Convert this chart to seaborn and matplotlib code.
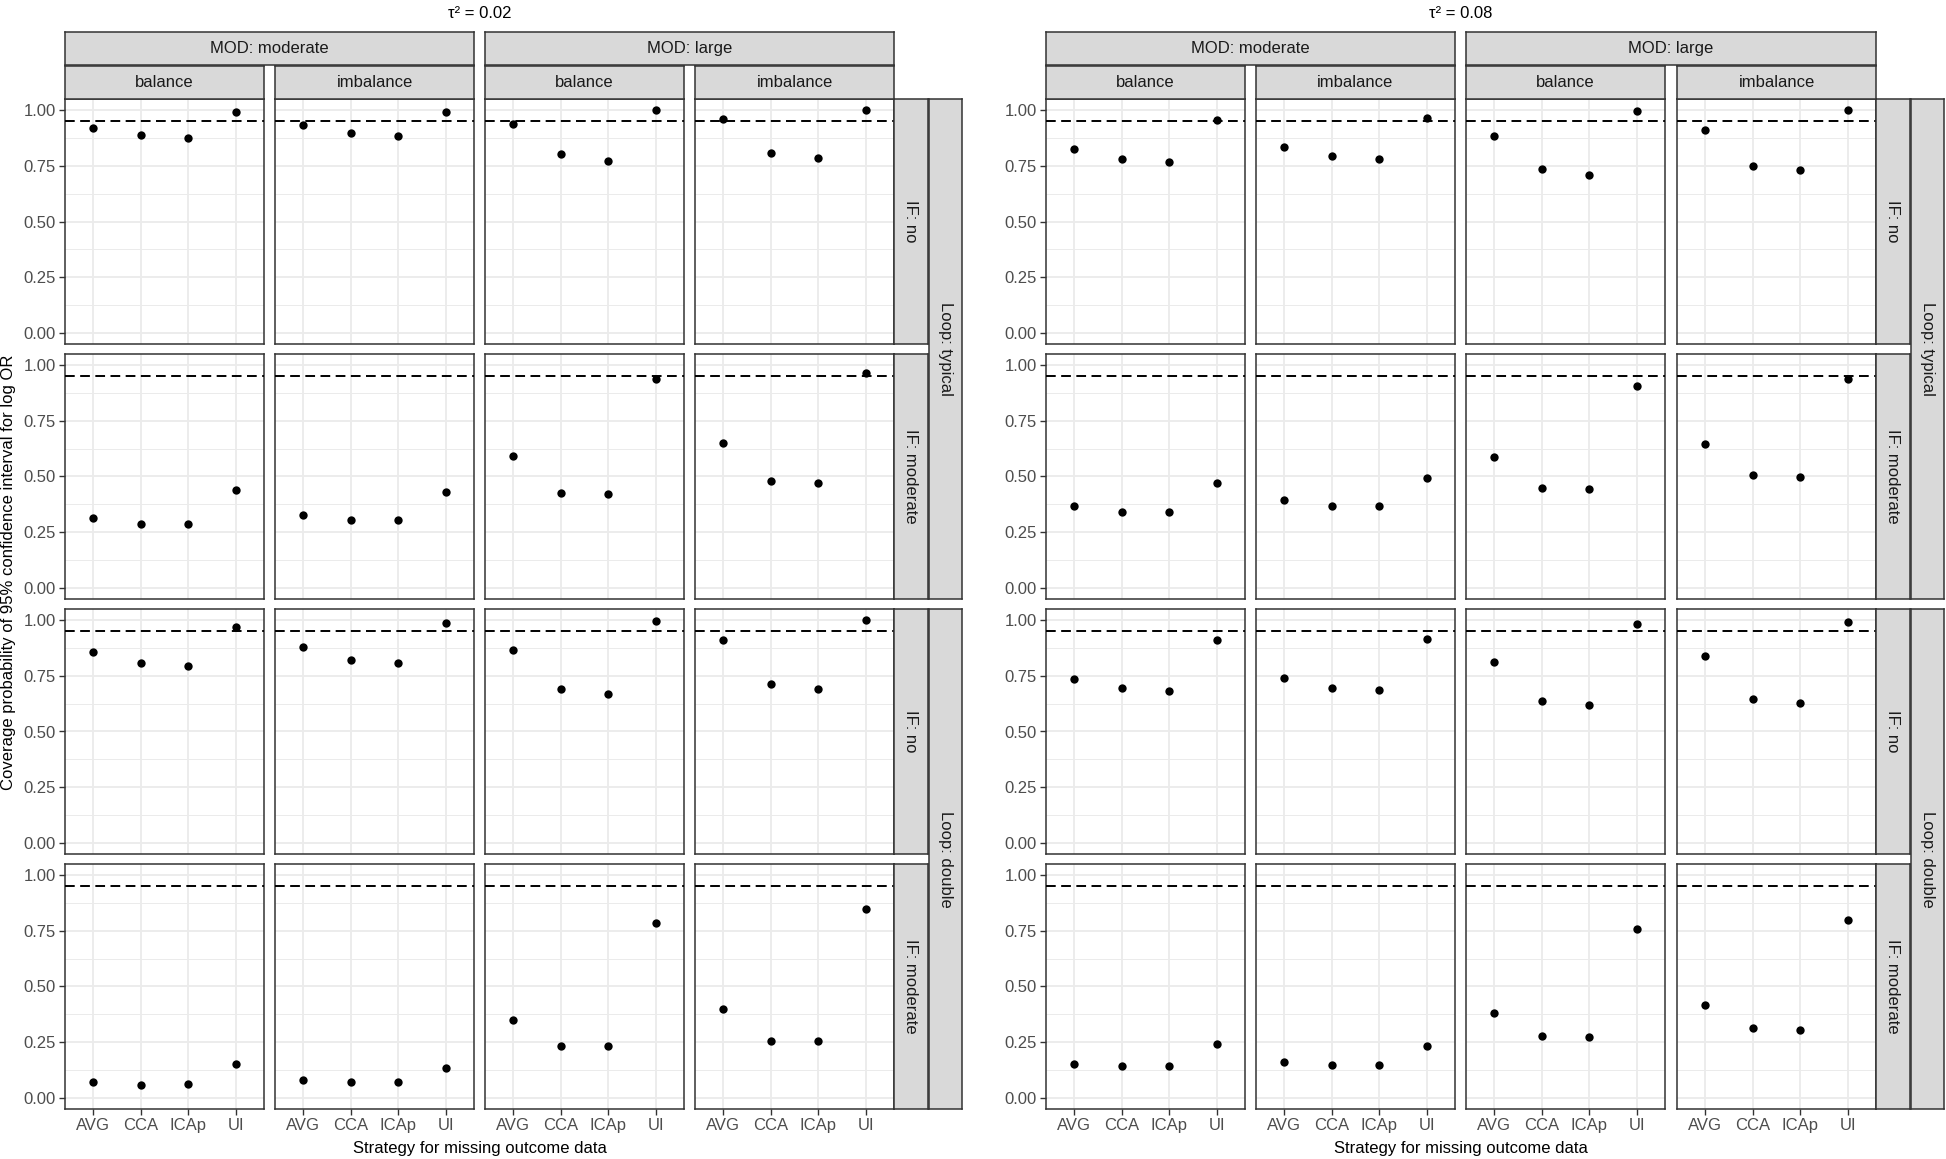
import matplotlib

matplotlib.use("Agg")

import matplotlib.pyplot as plt
import pandas as pd
import seaborn as sns

# Values: rows are (MOD, balance) facets in the order
# moderate/balance, moderate/imbalance, large/balance, large/imbalance,
# columns are the strategies AVG, CCA, ICAp, UI.
STRATEGIES = ["AVG", "CCA", "ICAp", "UI"]
TAUS = ["0.02", "0.08"]
LOOPS = ["typical", "double"]
IFS = ["no", "moderate"]
MODS = ["moderate", "large"]
BALANCES = ["balance", "imbalance"]

cov_002_typical_no = [
    [0.922, 0.888, 0.874, 0.991],
    [0.933, 0.897, 0.885, 0.993],
    [0.940, 0.801, 0.773, 1.000],
    [0.961, 0.809, 0.783, 1.000],
]
cov_002_typical_moderate = [
    [0.312, 0.286, 0.288, 0.441],
    [0.325, 0.304, 0.304, 0.432],
    [0.592, 0.427, 0.421, 0.936],
    [0.649, 0.478, 0.471, 0.966],
]
cov_002_double_no = [
    [0.855, 0.807, 0.792, 0.970],
    [0.880, 0.822, 0.808, 0.985],
    [0.865, 0.690, 0.667, 0.996],
    [0.909, 0.714, 0.693, 1.000],
]
cov_002_double_moderate = [
    [0.069, 0.060, 0.064, 0.150],
    [0.079, 0.073, 0.072, 0.136],
    [0.349, 0.231, 0.231, 0.786],
    [0.400, 0.257, 0.256, 0.846],
]
cov_008_typical_no = [
    [0.824, 0.779, 0.767, 0.957],
    [0.834, 0.794, 0.782, 0.963],
    [0.885, 0.735, 0.710, 0.997],
    [0.912, 0.750, 0.729, 0.999],
]
cov_008_typical_moderate = [
    [0.367, 0.340, 0.342, 0.471],
    [0.393, 0.369, 0.366, 0.495],
    [0.589, 0.450, 0.445, 0.907],
    [0.645, 0.507, 0.498, 0.937],
]
cov_008_double_no = [
    [0.736, 0.696, 0.681, 0.909],
    [0.742, 0.697, 0.687, 0.915],
    [0.810, 0.636, 0.619, 0.984],
    [0.841, 0.646, 0.627, 0.990],
]
cov_008_double_moderate = [
    [0.154, 0.141, 0.141, 0.240],
    [0.160, 0.148, 0.147, 0.232],
    [0.383, 0.277, 0.274, 0.759],
    [0.419, 0.313, 0.305, 0.799],
]

TARGET = 0.95

COVERAGE = {
    ("0.02", "typical", "no"): cov_002_typical_no,
    ("0.02", "typical", "moderate"): cov_002_typical_moderate,
    ("0.02", "double", "no"): cov_002_double_no,
    ("0.02", "double", "moderate"): cov_002_double_moderate,
    ("0.08", "typical", "no"): cov_008_typical_no,
    ("0.08", "typical", "moderate"): cov_008_typical_moderate,
    ("0.08", "double", "no"): cov_008_double_no,
    ("0.08", "double", "moderate"): cov_008_double_moderate,
}

records = []
for (tau, loop, inf), grid in COVERAGE.items():
    for k, vals in enumerate(grid):
        mod, bal = MODS[k // 2], BALANCES[k % 2]
        for strat, v in zip(STRATEGIES, vals):
            records.append(dict(tau=tau, loop=loop, IF=inf, MOD=mod,
                                balance=bal, strategy=strat, coverage=v))
df = pd.DataFrame(records)

sns.set_theme(style="white")
plt.rcParams["font.family"] = ["Liberation Sans", "DejaVu Sans"]

W, H = 1946, 1159
fig = plt.figure(figsize=(W / 100, H / 100), dpi=100)

STRIP_BG = "#D9D9D9"
DARK = "#333333"
GRID = "#EBEBEB"
FS = 12


def box(x0, y0, x1, y1):
    """Pixel box (top-left origin) to figure fraction rect."""
    return [x0 / W, 1 - y1 / H, (x1 - x0) / W, (y1 - y0) / H]


def strip(x0, y0, x1, y1, label, rotation=0):
    ax = fig.add_axes(box(x0, y0, x1, y1))
    ax.set_facecolor(STRIP_BG)
    ax.set_xticks([])
    ax.set_yticks([])
    for s in ax.spines.values():
        s.set_color(DARK)
        s.set_linewidth(1.1)
    ax.text(0.5, 0.5, label, transform=ax.transAxes, ha="center", va="center",
            rotation=rotation, fontsize=FS, color="#1A1A1A")


ROW_TOPS = [99, 354, 609, 864]
ROW_H = 245
COL_STARTS = {"0.02": [65, 275, 485, 695], "0.08": [1046, 1256, 1466, 1677]}
COL_W = 199
ROWS = [(loop, inf) for loop in LOOPS for inf in IFS]
COLS = [(mod, bal) for mod in MODS for bal in BALANCES]

for tau in TAUS:
    xs = COL_STARTS[tau]
    right = xs[-1] + COL_W
    for r, (loop, inf) in enumerate(ROWS):
        y0 = ROW_TOPS[r]
        for c, (mod, bal) in enumerate(COLS):
            ax = fig.add_axes(box(xs[c], y0, xs[c] + COL_W, y0 + ROW_H))
            sub = df[(df.tau == tau) & (df.loop == loop) & (df.IF == inf)
                     & (df.MOD == mod) & (df.balance == bal)]
            sns.stripplot(data=sub, x="strategy", y="coverage", order=STRATEGIES,
                          jitter=False, color="black", size=6, linewidth=0,
                          ax=ax, zorder=4)
            ax.axhline(TARGET, color="black", lw=1.4, ls=(0, (5, 2.8)), zorder=3)
            ax.set_xlim(-0.6, 3.6)
            ax.set_ylim(-0.05, 1.05)
            ax.set_yticks([0, 0.25, 0.5, 0.75, 1.0])
            ax.set_yticks([0.125, 0.375, 0.625, 0.875], minor=True)
            ax.set_axisbelow(True)
            ax.grid(True, which="major", color=GRID, lw=1.3)
            ax.grid(True, which="minor", axis="y", color=GRID, lw=0.7)
            ax.set_facecolor("white")
            for s in ax.spines.values():
                s.set_color(DARK)
                s.set_linewidth(1.1)
                s.set_visible(True)
            ax.set_xlabel("")
            ax.set_ylabel("")
            ax.tick_params(which="minor", length=0)
            ax.tick_params(axis="both", which="major", labelsize=FS,
                           labelcolor="#4D4D4D", color=DARK, width=1,
                           length=4, pad=2.5)
            ax.tick_params(axis="y", left=(c == 0), labelleft=(c == 0))
            ax.tick_params(axis="x", bottom=(r == 3), labelbottom=(r == 3))
            if c == 0:
                ax.set_yticklabels(["0.00", "0.25", "0.50", "0.75", "1.00"])
        # IF strip on the right of each row
        strip(right, y0, right + 34, y0 + ROW_H, f"IF: {inf}", rotation=270)

    # Loop strips span two rows each
    for i, loop in enumerate(LOOPS):
        top = ROW_TOPS[2 * i]
        bottom = ROW_TOPS[2 * i + 1] + ROW_H
        strip(right + 35, top, right + 68, bottom, f"Loop: {loop}", rotation=270)

    # top strips
    for m, mod in enumerate(MODS):
        strip(xs[2 * m], 32, xs[2 * m + 1] + COL_W, 65, f"MOD: {mod}")
    for c, (mod, bal) in enumerate(COLS):
        strip(xs[c], 66, xs[c] + COL_W, 99, bal)

    center = (xs[0] + right) / 2
    fig.text(center / W, 1 - 14 / H, f"τ² = {tau}", ha="center", va="center",
             fontsize=FS, color="black")
    fig.text(center / W, 1 - 1148 / H, "Strategy for missing outcome data",
             ha="center", va="center", fontsize=FS, color="black")

fig.text(9 / W, 1 - 572 / H,
         "Coverage probability of 95% confidence interval for log OR",
         ha="center", va="center", rotation=90, fontsize=FS, color="black")

fig.savefig("out.png", dpi=100)
